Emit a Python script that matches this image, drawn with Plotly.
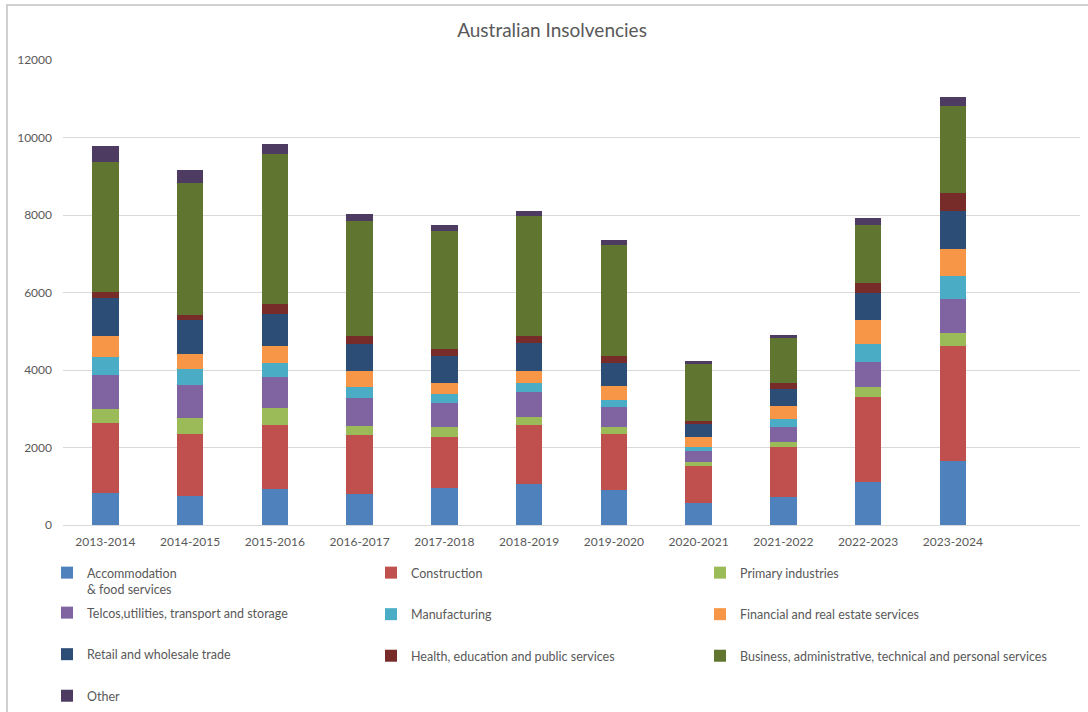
import plotly.graph_objects as go

# Financial years
years = ["2013-2014", "2014-2015", "2015-2016", "2016-2017", "2017-2018", "2018-2019",
         "2019-2020", "2020-2021", "2021-2022", "2022-2023", "2023-2024"]

# Insolvencies by industry
accommodation = [831, 754, 925, 793, 948, 1060, 905, 568, 723, 1110, 1661]
construction = [1800, 1585, 1646, 1517, 1336, 1518, 1440, 955, 1282, 2203, 2969]
primary = [360, 420, 454, 250, 233, 206, 172, 104, 138, 250, 327]
telcos = [874, 857, 797, 724, 630, 638, 535, 283, 396, 645, 878]
manufacturing = [471, 403, 368, 285, 241, 233, 181, 95, 198, 465, 585]
financial = [540, 403, 420, 405, 267, 319, 345, 267, 344, 620, 706]
retail = [985, 857, 840, 698, 707, 733, 612, 327, 439, 688, 972]
health = [163, 137, 266, 207, 172, 172, 181, 95, 137, 267, 465]
business = [3342, 3419, 3855, 2957, 3061, 3095, 2853, 1463, 1171, 1506, 2246]
other = [420, 325, 249, 198, 155, 138, 138, 68, 77, 181, 241]

# (label, values, colour, legend column block)
series = [
    ("Accommodation<br>& food services", accommodation, "#4F81BD", "legend"),
    ("Construction", construction, "#C0504D", "legend3"),
    ("Primary industries", primary, "#9BBB59", "legend4"),
    ("Telcos,utilities, transport and storage", telcos, "#8064A2", "legend2"),
    ("Manufacturing", manufacturing, "#4BACC6", "legend3"),
    ("Financial and real estate services", financial, "#F79646", "legend4"),
    ("Retail and wholesale trade", retail, "#2C4D75", "legend2"),
    ("Health, education and public services", health, "#772C2A", "legend3"),
    ("Business, administrative, technical and personal services", business, "#5F7530", "legend4"),
    ("Other", other, "#4D3B62", "legend2"),
]

FONT = "Lato, 'Liberation Sans', Arial, sans-serif"
GREY = "#595959"

W, H = 1088, 712
L, R, T, B = 63, 8, 60, 187
PW, PH = W - L - R, H - T - B


def px_x(p):
    return (p - L) / PW


def px_y(p):
    return (H - B - p) / PH


fig = go.Figure()
for name, vals, color, leg in series:
    fig.add_trace(go.Bar(
        x=years, y=vals, name=name, legend=leg, legendgroup=name,
        marker=dict(color=color, line=dict(width=0)),
        width=0.315,
    ))


def legend_col(xleft, ytop):
    return dict(
        orientation="v", x=px_x(xleft), xanchor="left", y=px_y(ytop), yanchor="top",
        valign="top", tracegroupgap=22.3,
        font=dict(family=FONT, size=12.5, color=GREY),
        bgcolor="rgba(0,0,0,0)", itemclick=False, itemdoubleclick=False,
    )


fig.update_layout(
    width=W, height=H,
    margin=dict(l=L, r=R, t=T, b=B, autoexpand=False),
    paper_bgcolor="white", plot_bgcolor="white",
    barmode="stack",
    title=dict(text="Australian Insolvencies", xref="container", x=552 / W,
               xanchor="center", y=1 - 30 / H, yanchor="middle",
               font=dict(family=FONT, size=19, color=GREY)),
    font=dict(family=FONT, size=12, color=GREY),
    showlegend=True,
    legend=legend_col(47, 558),
    legend2=legend_col(47, 598),
    legend3=legend_col(371, 558),
    legend4=legend_col(700, 558),
    xaxis=dict(
        type="category", range=[-0.5, 11.5],
        showline=True, linecolor="#d9d9d9", linewidth=1,
        ticks="", showgrid=False, ticklabelstandoff=6,
        tickfont=dict(family=FONT, size=12, color=GREY),
    ),
    yaxis=dict(
        range=[0, 12000], dtick=2000, tickformat="d",
        showgrid=True, gridcolor="#d9d9d9", gridwidth=1,
        zeroline=False, showline=False, ticks="",
        ticklabelstandoff=10,
        tickfont=dict(family=FONT, size=12, color=GREY),
    ),
    shapes=[
        # chart frame
        dict(type="rect", xref="paper", yref="paper",
             x0=px_x(7), x1=px_x(1120), y0=px_y(740), y1=px_y(5),
             line=dict(color="#d0d0d0", width=2), fillcolor="rgba(0,0,0,0)",
             layer="below"),
    ],
)

fig.write_html("out.html")
